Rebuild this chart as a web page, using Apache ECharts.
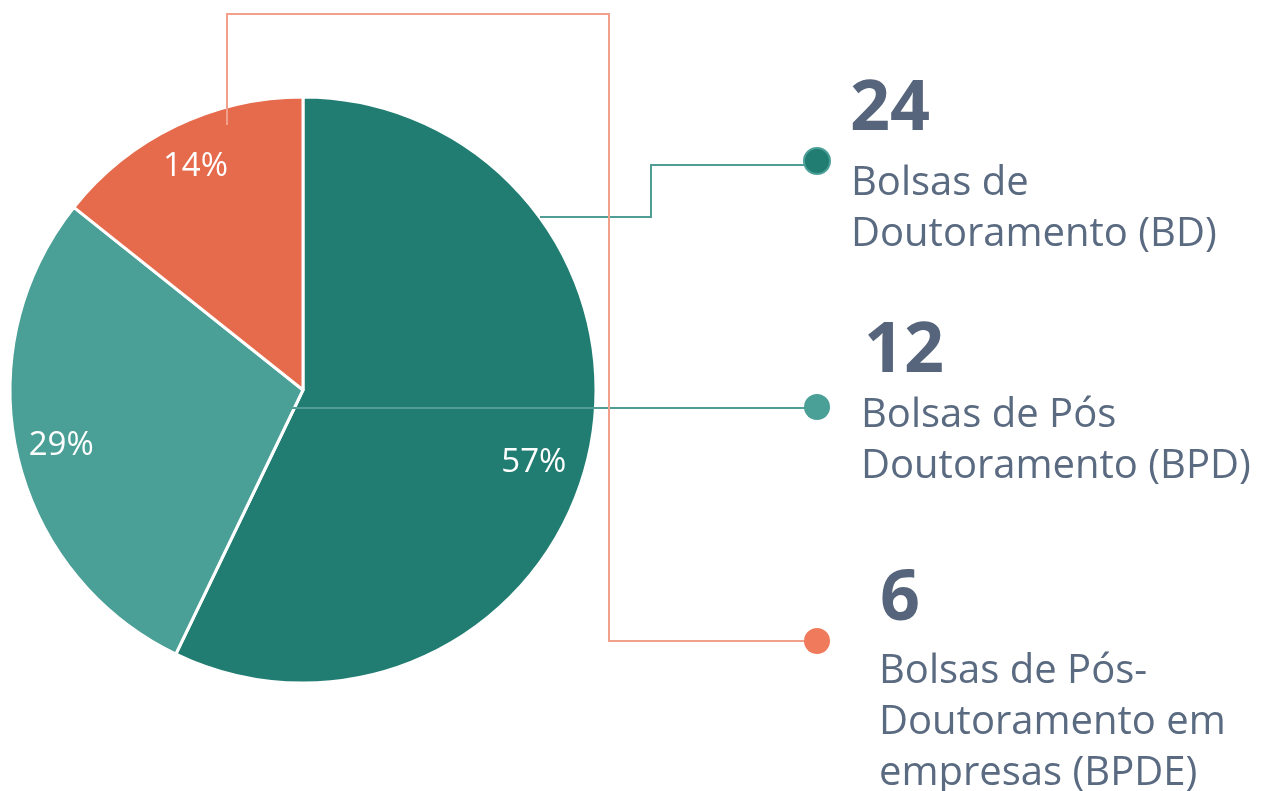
<!DOCTYPE html>
<html>
<head>
<meta charset="utf-8">
<style>
  html, body { margin: 0; padding: 0; background: #ffffff; }
  #main { width: 1267px; height: 791px; }
</style>
<script src="https://cdn.jsdelivr.net/npm/echarts@6/dist/echarts.min.js"></script>
</head>
<body>
<div id="main"></div>
<script>
// dados do gráfico
var categories = ['Bolsas de Doutoramento (BD)', 'Bolsas de Pós Doutoramento (BPD)', 'Bolsas de Pós-Doutoramento em empresas (BPDE)'];
var values = [24, 12, 6];
var labelLines = [
    ['Bolsas de', 'Doutoramento (BD)'],
    ['Bolsas de Pós', 'Doutoramento (BPD)'],
    ['Bolsas de Pós-', 'Doutoramento em', 'empresas (BPDE)']
];
var sliceColors = ['#217d72', '#4a9f96', '#e66b4c'];
var lineColors = ['#4f9d94', '#4f9d94', '#f3a08b'];
var dotColors = ['#217d72', '#4a9f96', '#f07b5c'];

var dom = document.getElementById('main');
var myChart = echarts.init(dom);

var pieData = values.map(function (v, i) {
    return { value: v, name: categories[i], itemStyle: { color: sliceColors[i] } };
});

// blocos de texto à direita
var blocks = [
    { x: 851, numY: 110, lineY: 184, nx: 850 },
    { x: 861, numY: 352, lineY: 416, nx: 864 },
    { x: 879, numY: 600, lineY: 672, nx: 880 }
];
var lineGap = 51;

var graphics = [];

// linhas de ligação
var connectors = [
    [[540, 217], [651, 217], [651, 165], [806, 165]],
    [[291, 408], [806, 408]],
    [[227, 125], [227, 14], [609, 14], [609, 641], [806, 641]]
];
var dots = [[817, 161], [817, 407], [817, 641]];

connectors.forEach(function (pts, i) {
    graphics.push({
        type: 'polyline',
        z: 100,
        silent: true,
        shape: { points: pts },
        style: { stroke: lineColors[i], lineWidth: 2, fill: null }
    });
});
dots.forEach(function (p, i) {
    graphics.push({
        type: 'circle',
        z: 101,
        silent: true,
        shape: { cx: p[0], cy: p[1], r: 13 },
        style: {
            fill: dotColors[i],
            stroke: i === 0 ? '#4a9f96' : null,
            lineWidth: i === 0 ? 2 : 0
        }
    });
});

blocks.forEach(function (b, i) {
    graphics.push({
        type: 'text',
        z: 101,
        silent: true,
        x: b.nx,
        y: b.numY,
        style: {
            text: String(values[i]),
            font: 'bold 70px "Open Sans"',
            fill: '#56657b',
            align: 'left',
            verticalAlign: 'middle'
        }
    });
    labelLines[i].forEach(function (t, k) {
        graphics.push({
            type: 'text',
            z: 101,
            silent: true,
            x: b.x,
            y: b.lineY + k * lineGap,
            style: {
                text: t,
                font: '40px "Open Sans"',
                fill: '#5a6a80',
                align: 'left',
                verticalAlign: 'middle'
            }
        });
    });
});

var option = {
    backgroundColor: '#ffffff',
    animation: false,
    series: [
        {
            name: 'bolsas',
            type: 'pie',
            center: [303, 390],
            radius: [0, 293],
            startAngle: 90,
            clockwise: true,
            silent: true,
            label: { show: false },
            labelLine: { show: false },
            itemStyle: { borderColor: '#ffffff', borderWidth: 3 },
            data: pieData
        },
        {
            // série auxiliar só para posicionar as percentagens
            name: 'percentagens',
            type: 'pie',
            center: [303, 390],
            radius: [195, 295],
            startAngle: 90,
            clockwise: true,
            silent: true,
            percentPrecision: 0,
            itemStyle: { color: 'rgba(0,0,0,0)', borderWidth: 0 },
            label: {
                show: true,
                position: 'inside',
                formatter: '{d}%',
                color: '#ffffff',
                fontFamily: 'Open Sans',
                fontSize: 33
            },
            labelLayout: function (params) {
                if (params.dataIndex === 0) {
                    return { dx: -11, dy: 17 };
                }
                return {};
            },
            labelLine: { show: false },
            data: values.map(function (v, i) { return { value: v, name: categories[i] }; })
        }
    ],
    graphic: graphics
};

myChart.setOption(option, true);
</script>
</body>
</html>
